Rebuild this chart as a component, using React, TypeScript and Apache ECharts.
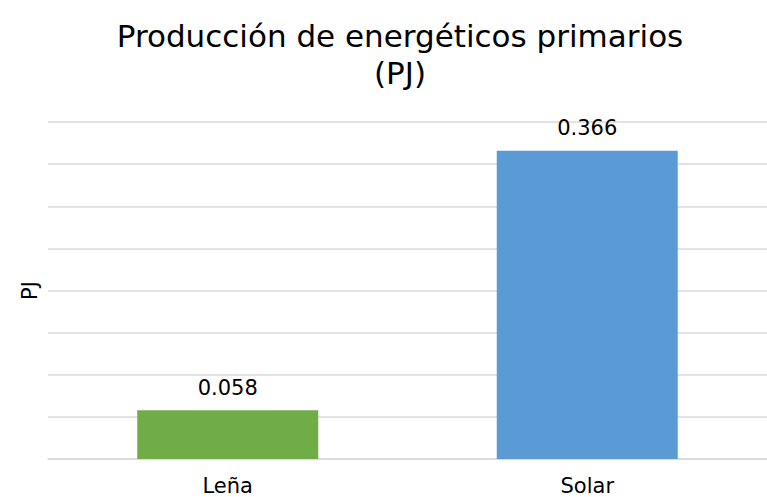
import React, { useEffect, useRef } from "react";
import * as echarts from "echarts";

const titleText = "Producción de energéticos primarios\n(PJ)";
const categories = ["Leña", "Solar"];
const values = [0.058, 0.366];
const barColors = ["#70AD47", "#5B9BD5"];
const yAxisName = "PJ";

export default function App() {
  const ref = useRef<HTMLDivElement>(null);
  useEffect(() => {
    if (!ref.current) return;
    const chart = echarts.init(ref.current, null, { renderer: "svg" });
    const font = "'DejaVu Sans', sans-serif";
    chart.setOption({
      animation: false,
      backgroundColor: "#ffffff",
      title: {
        text: titleText,
        left: 395,
        top: 12,
        textAlign: "center",
        textStyle: {
          fontFamily: font,
          fontSize: 31,
          fontWeight: "normal",
          color: "#000000",
          lineHeight: 37,
        },
      },
      grid: { left: 48, top: 122, width: 722, height: 337 },
      xAxis: {
        type: "category",
        data: categories,
        axisLine: { lineStyle: { color: "#d9d9d9", width: 1.5 } },
        axisTick: { show: false },
        axisLabel: { fontFamily: font, fontSize: 21, color: "#000", margin: 16 },
      },
      yAxis: {
        type: "value",
        min: 0,
        max: 0.4,
        interval: 0.05,
        name: yAxisName,
        nameLocation: "middle",
        nameGap: 8,
        nameTextStyle: { fontFamily: font, fontSize: 21, color: "#000" },
        axisLabel: { show: false },
        axisLine: { show: false },
        axisTick: { show: false },
        splitLine: { lineStyle: { color: "#d9d9d9", width: 1.5 } },
      },
      series: [
        {
          type: "bar",
          barWidth: 181,
          data: values.map((v, i) => ({ value: v, itemStyle: { color: barColors[i] } })),
          label: {
            show: true,
            position: "top",
            distance: 12,
            fontFamily: font,
            fontSize: 21,
            color: "#000",
            formatter: (p: any) => p.value.toFixed(3),
          },
        },
      ],
    });
    return () => chart.dispose();
  }, []);
  return (
    <div
      ref={ref}
      style={{ position: "fixed", left: 0, top: 0, width: 767, height: 497 }}
    />
  );
}
